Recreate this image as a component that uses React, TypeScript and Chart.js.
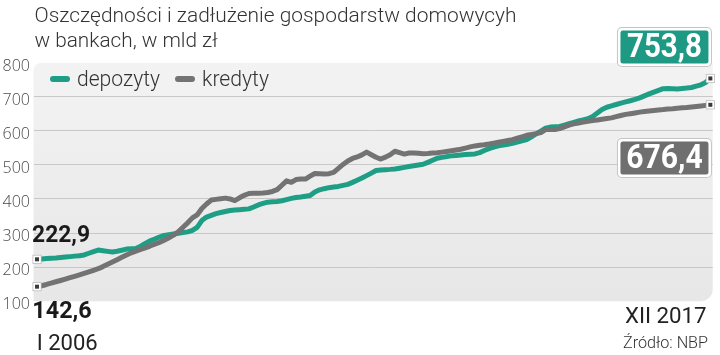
import React, { useEffect, useRef } from "react";
import { Chart, registerables } from "chart.js";

Chart.register(...registerables);

const TITLE_LINES = ["Oszczędności i zadłużenie gospodarstw domowycyh", "w bankach, w mld zł"];
const SERIES_NAMES = ["depozyty", "kredyty"];
const ROMAN_MONTHS = ["I", "II", "III", "IV", "V", "VI", "VII", "VIII", "IX", "X", "XI", "XII"];
const YEARS = [2006, 2007, 2008, 2009, 2010, 2011, 2012, 2013, 2014, 2015, 2016, 2017];
const Y_MIN = 100;
const Y_MAX = 800;
const Y_STEP = 100;
const SOURCE = "Źródło: NBP";

const depozyty = [
  222.9, 224.1, 225.0, 226.2, 227.0, 228.2, 229.4, 230.8, 232.3, 233.4, 235.8, 240.7,
  245.4, 250.0, 248.0, 246.2, 244.5, 246.8, 249.7, 252.9, 254.1, 254.8, 261.4, 269.2,
  277.3, 282.6, 288.4, 293.0, 295.1, 297.1, 299.4, 301.5, 303.5, 307.9, 316.6, 336.6,
  346.8, 351.8, 357.0, 360.2, 363.4, 366.3, 367.5, 368.6, 369.8, 371.0, 376.5, 382.6,
  386.9, 390.7, 391.6, 392.8, 394.8, 398.3, 401.8, 404.4, 406.1, 408.2, 410.2, 420.4,
  426.8, 430.2, 433.2, 434.9, 436.9, 439.8, 443.0, 448.8, 455.0, 461.4, 468.6, 475.9,
  483.4, 485.2, 486.1, 486.9, 488.1, 490.4, 492.8, 495.1, 497.4, 499.7, 501.8, 507.6,
  513.7, 519.8, 522.1, 524.4, 526.5, 527.9, 529.1, 530.3, 531.4, 532.3, 536.1, 542.2,
  547.7, 552.1, 555.8, 558.4, 560.8, 563.7, 567.2, 570.7, 574.4, 582.6, 591.0, 599.4,
  607.6, 611.1, 612.2, 613.1, 616.9, 621.0, 625.0, 628.8, 632.3, 635.8, 642.2, 652.3,
  662.5, 669.2, 673.3, 677.3, 681.4, 684.9, 688.4, 692.2, 696.8, 702.6, 708.5, 713.7,
  718.9, 723.9, 724.1, 723.6, 723.0, 724.4, 725.6, 727.3, 731.0, 735.0, 742.0, 753.8,
];

const kredyty = [
  142.6, 145.4, 149.1, 153.2, 157.0, 160.8, 164.8, 168.9, 173.0, 177.0, 181.4, 186.1,
  190.7, 195.4, 201.5, 208.2, 215.1, 221.8, 228.8, 235.5, 241.9, 246.8, 251.8, 256.7,
  261.9, 267.5, 272.7, 278.8, 286.4, 293.9, 303.8, 316.9, 330.0, 344.5, 353.2, 372.1,
  385.2, 396.8, 398.9, 400.6, 402.6, 400.0, 395.4, 403.5, 410.8, 416.0, 416.6, 416.6,
  417.5, 418.9, 422.1, 427.3, 440.4, 453.2, 448.8, 457.0, 458.4, 458.4, 466.9, 474.7,
  473.9, 473.3, 474.4, 478.2, 489.8, 501.5, 511.6, 518.9, 523.3, 529.4, 537.5, 530.0,
  522.4, 517.2, 522.9, 530.0, 540.1, 535.8, 531.7, 534.9, 534.9, 534.0, 532.9, 533.7,
  534.9, 535.8, 537.5, 539.3, 541.3, 543.6, 545.9, 549.4, 552.9, 555.8, 557.6, 559.3,
  561.4, 564.0, 566.6, 569.2, 571.8, 574.1, 578.2, 582.6, 586.9, 589.3, 591.9, 595.1,
  603.8, 603.8, 603.8, 606.4, 611.6, 616.9, 620.4, 623.0, 625.6, 628.2, 630.3, 632.0,
  634.0, 636.1, 638.1, 641.6, 645.1, 648.3, 650.3, 652.6, 655.0, 657.0, 658.5, 659.9,
  661.4, 662.5, 664.0, 665.1, 666.6, 667.5, 668.5, 670.0, 671.5, 673.0, 674.8, 676.4,
];

const COLORS = { depozyty: "#1f9e86", kredyty: "#737373", depBox: "#1e9a84", kredBox: "#6f6f6f" };

const monthLabels = YEARS.flatMap((y) => ROMAN_MONTHS.map((m) => `${m} ${y}`));
const fmt = (v: number) => v.toFixed(1).replace(".", ",");

function fitText(
  ctx: CanvasRenderingContext2D,
  text: string,
  x: number,
  y: number,
  font: string,
  width: number | null,
  align: "left" | "right" | "center"
) {
  ctx.save();
  ctx.font = font;
  const w = ctx.measureText(text).width;
  const s = width ? width / w : 1;
  const left = align === "right" ? x - w * s : align === "center" ? x - (w * s) / 2 : x;
  ctx.translate(left, y);
  ctx.scale(s, 1);
  ctx.textAlign = "left";
  ctx.textBaseline = "alphabetic";
  ctx.fillText(text, 0, 0);
  ctx.restore();
}

function drawBox(
  ctx: CanvasRenderingContext2D,
  x: number,
  y: number,
  w: number,
  h: number,
  fill: string,
  text: string,
  textW: number
) {
  ctx.save();
  ctx.beginPath();
  ctx.roundRect(x - 1, y - 1, w + 2, h + 2, 5);
  ctx.fillStyle = "#c4c4c4";
  ctx.fill();
  ctx.beginPath();
  ctx.roundRect(x, y, w, h, 4);
  ctx.fillStyle = "#ffffff";
  ctx.fill();
  ctx.beginPath();
  ctx.roundRect(x + 2.5, y + 2.5, w - 5, h - 5, 2.5);
  ctx.fillStyle = fill;
  ctx.fill();
  ctx.fillStyle = "#ffffff";
  fitText(ctx, text, x + w / 2, y + 28.6, "bold 33px Roboto", textW, "center");
  ctx.restore();
}

function drawMarker(ctx: CanvasRenderingContext2D, x: number, y: number) {
  ctx.save();
  ctx.fillStyle = "#b8b8b8";
  ctx.fillRect(x - 4.5, y - 4.5, 9, 9);
  ctx.fillStyle = "#ffffff";
  ctx.fillRect(x - 3.75, y - 3.75, 7.5, 7.5);
  ctx.fillStyle = "#3a3a3a";
  ctx.fillRect(x - 2, y - 2, 4, 4);
  ctx.restore();
}

const bgPlugin = {
  id: "plotBg",
  beforeDraw(chart: any) {
    const { ctx, chartArea } = chart;
    const { left, top, right, bottom } = chartArea;
    const g = ctx.createLinearGradient(0, top, 0, bottom);
    g.addColorStop(0, "#f3f3f3");
    g.addColorStop(1, "#e7e7e7");
    ctx.save();
    ctx.beginPath();
    ctx.roundRect(left, top, right - left, bottom - top, [8, 0, 12, 0]);
    ctx.fillStyle = g;
    ctx.fill();
    ctx.restore();
  },
};

const decorPlugin = {
  id: "decor",
  afterDraw(chart: any) {
    const { ctx, chartArea, scales } = chart;
    const xs = scales.x;
    const ys = scales.y;
    const last = depozyty.length - 1;

    // End markers from the library's own point elements
    chart.data.datasets.forEach((_ds: any, i: number) => {
      const pts = chart.getDatasetMeta(i).data;
      [pts[0], pts[pts.length - 1]].forEach((p: any) => drawMarker(ctx, p.x, p.y));
    });

    // Title
    ctx.save();
    ctx.fillStyle = "#333333";
    fitText(ctx, TITLE_LINES[0], 34.5, 21.7, "300 21px Roboto", 482, "left");
    fitText(ctx, TITLE_LINES[1], 34.5, 47.3, "300 21px Roboto", 183, "left");

    // Legend
    const legendY = chartArea.top + 16.3;
    const legendWidths = [83, 67];
    let lx = chartArea.left + 16.5;
    chart.data.datasets.forEach((ds: any, i: number) => {
      ctx.beginPath();
      ctx.roundRect(lx, legendY - 3, 20, 6, 3);
      ctx.fillStyle = ds.borderColor;
      ctx.fill();
      ctx.fillStyle = "#333333";
      fitText(ctx, ds.label, lx + 27, legendY + 7, "300 22px Roboto", legendWidths[i], "left");
      lx += 27 + legendWidths[i] + 15;
    });

    // End labels
    const xStart = xs.getPixelForValue(0);
    const xEnd = xs.getPixelForValue(last);
    const yDepStart = ys.getPixelForValue(depozyty[0]);
    const yKredStart = ys.getPixelForValue(kredyty[0]);
    const yDepEnd = ys.getPixelForValue(depozyty[last]);
    const yKredEnd = ys.getPixelForValue(kredyty[last]);

    drawBox(ctx, xEnd - 92.4, yDepEnd - 50.4, 93, 38, COLORS.depBox, fmt(depozyty[last]), 75);
    drawBox(ctx, xEnd - 92.4, yKredEnd + 34.2, 93, 38, COLORS.kredBox, fmt(kredyty[last]), 76.5);

    ctx.fillStyle = "#1a1a1a";
    fitText(ctx, fmt(depozyty[0]), xStart - 5, yDepStart - 17.5, "bold 24px Roboto", 58, "left");
    fitText(ctx, fmt(kredyty[0]), xStart - 4.7, yKredStart + 31.8, "bold 24px Roboto", 59.4, "left");

    ctx.fillStyle = "#222222";
    fitText(ctx, monthLabels[0], xStart - 0.3, chartArea.bottom + 48.8, "400 22px Roboto", 61, "left");
    fitText(ctx, monthLabels[last], xEnd - 3.7, chartArea.bottom + 21.5, "400 22px Roboto", 81.7, "right");

    ctx.fillStyle = "#333333";
    fitText(ctx, SOURCE, 708, chartArea.bottom + 47, "300 16px Roboto", 85, "right");
    ctx.restore();
  },
};

export default function App() {
  const canvasRef = useRef<HTMLCanvasElement | null>(null);

  useEffect(() => {
    document.body.style.margin = "0";
    const canvas = canvasRef.current;
    if (!canvas) return;

    const chart = new Chart(canvas, {
      type: "line",
      data: {
        datasets: [
          {
            label: SERIES_NAMES[0],
            data: depozyty.map((v, i) => ({ x: i, y: v })),
            borderColor: COLORS.depozyty,
            borderWidth: 5,
            tension: 0,
            borderJoinStyle: "round",
            borderCapStyle: "round",
            pointRadius: 0,
            pointHoverRadius: 0,
            clip: false,
            order: 1,
          } as any,
          {
            label: SERIES_NAMES[1],
            data: kredyty.map((v, i) => ({ x: i, y: v })),
            borderColor: COLORS.kredyty,
            borderWidth: 5,
            tension: 0,
            borderJoinStyle: "round",
            borderCapStyle: "round",
            pointRadius: 0,
            pointHoverRadius: 0,
            clip: false,
            order: 0,
          } as any,
        ],
      },
      options: {
        animation: false,
        responsive: true,
        maintainAspectRatio: false,
        events: [],
        layout: { padding: { top: 62.7, bottom: 53.8, left: 0, right: 7.3 } },
        plugins: { legend: { display: false }, tooltip: { enabled: false }, title: { display: false } },
        scales: {
          x: { type: "linear", min: -0.75, max: monthLabels.length - 0.5, display: false },
          y: {
            type: "linear",
            min: Y_MIN,
            max: Y_MAX,
            afterFit: (scale: any) => {
              scale.width = 33.5;
            },
            border: { display: false },
            grid: {
              drawTicks: false,
              lineWidth: 1,
              color: (c: any) =>
                c.tick && (c.tick.value === Y_MIN || c.tick.value === Y_MAX) ? "rgba(0,0,0,0)" : "#c8c8c8",
            },
            ticks: {
              stepSize: Y_STEP,
              padding: 3.5,
              labelOffset: 3.5,
              color: "#4a4a4a",
              font: { family: "'Open Sans', sans-serif", size: 16, weight: "300" as any },
            },
          },
        },
      },
      plugins: [bgPlugin, decorPlugin],
    });

    return () => chart.destroy();
  }, []);

  return (
    <div style={{ position: "fixed", left: 0, top: 0, width: 720, height: 355 }}>
      <canvas ref={canvasRef} />
    </div>
  );
}
